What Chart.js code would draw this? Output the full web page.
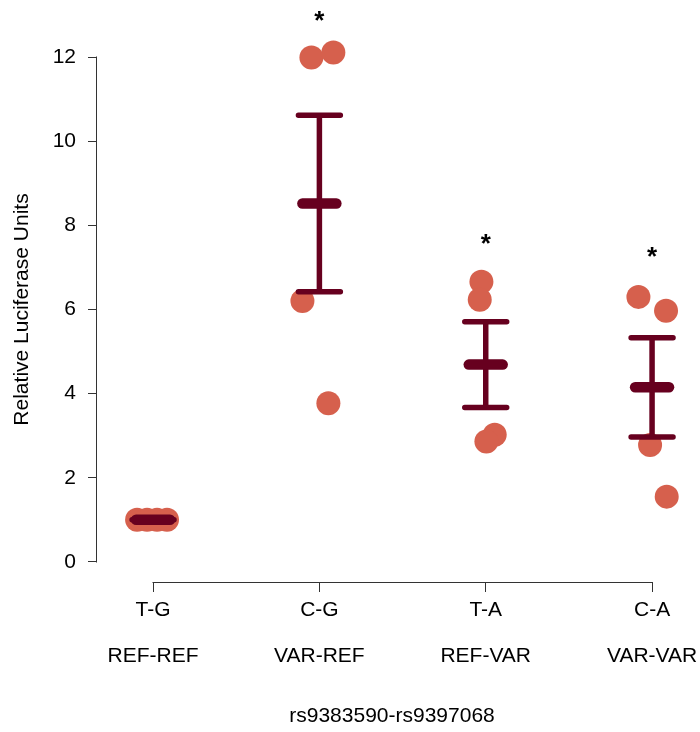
<!DOCTYPE html>
<html>
<head>
<meta charset="utf-8">
<script src="https://cdn.jsdelivr.net/npm/chart.js@4/dist/chart.umd.min.js"></script>
<style>
  html, body { margin: 0; padding: 0; background: #ffffff; }
  #c { display: block; }
</style>
</head>
<body>
<canvas id="c" width="700" height="732"></canvas>
<script>
// Haplotype groups and their genotype labels
const haplotypes = ['T-G', 'C-G', 'T-A', 'C-A'];
const genotypes = ['REF-REF', 'VAR-REF', 'REF-VAR', 'VAR-VAR'];
const yTicks = [0, 2, 4, 6, 8, 10, 12];

// Replicate luciferase readings per haplotype
const repTG = [1.00, 1.00, 1.00, 1.00];
const repCG = [11.99, 12.11, 6.20, 3.77];
const repTA = [6.66, 6.23, 3.02, 2.86];
const repCA = [6.30, 5.97, 2.78, 1.55];

// Horizontal jitter of the replicates (in category units)
const jitTG = [-0.096, -0.036, 0.024, 0.084];
const jitCG = [-0.048, 0.084, -0.102, 0.054];
const jitTA = [-0.026, -0.036, 0.054, 0.004];
const jitCA = [-0.082, 0.084, -0.012, 0.088];

// Group mean and standard error
const means = [1.00, 8.52, 4.69, 4.15];
const sems = [0.00, 2.10, 1.02, 1.18];

// Significance markers (value at which the star sits; null = none)
const starAt = [null, 12.95, 7.65, 7.35];

const xTitle = 'rs9383590-rs9397068';
const yTitle = 'Relative Luciferase Units';

const DOT = '#D6604D';
const DARK = '#67001F';
const FONT = '"Liberation Sans", Arial, Helvetica, sans-serif';
const FSIZE = 21;

const reps = [repTG, repCG, repTA, repCA];
const jits = [jitTG, jitCG, jitTA, jitCA];

const pointData = [];
reps.forEach((vals, i) => {
  vals.forEach((v, k) => pointData.push({ x: i + 1 + jits[i][k], y: v }));
});

const CAP_HALF = 0.126;
const MEAN_HALF = 0.102;

const datasets = [{
  label: 'replicates',
  data: pointData,
  pointRadius: 12,
  pointHoverRadius: 12,
  pointBackgroundColor: DOT,
  pointBorderWidth: 0,
  showLine: false,
  order: 3,
  clip: false
}];

means.forEach((m, i) => {
  const c = i + 1, lo = m - sems[i], hi = m + sems[i];
  datasets.push({
    label: 'se-' + haplotypes[i],
    data: [{ x: c, y: lo }, { x: c, y: hi }],
    showLine: true, borderColor: DARK, borderWidth: 5.5,
    borderCapStyle: 'butt', pointRadius: 0, order: 2, clip: false
  });
  datasets.push({
    label: 'caps-' + haplotypes[i],
    data: [{ x: c - CAP_HALF, y: hi }, { x: c + CAP_HALF, y: hi }, { x: c, y: null },
           { x: c - CAP_HALF, y: lo }, { x: c + CAP_HALF, y: lo }],
    showLine: true, spanGaps: false, borderColor: DARK, borderWidth: 5.5,
    borderCapStyle: 'round', pointRadius: 0, order: 2, clip: false
  });
  datasets.push({
    label: 'mean-' + haplotypes[i],
    data: [{ x: c - MEAN_HALF, y: m }, { x: c + MEAN_HALF, y: m }],
    showLine: true, borderColor: DARK, borderWidth: 10.5,
    borderCapStyle: 'round', pointRadius: 0, order: 1, clip: false
  });
});

// Axis lines spanning only the tick range, axis titles and significance stars
const decorations = {
  id: 'decorations',
  afterDraw(chart) {
    const { ctx, chartArea, scales } = chart;
    const xs = scales.x, ys = scales.y;
    ctx.save();
    ctx.strokeStyle = '#333';
    ctx.lineWidth = 1;
    ctx.beginPath();
    const ax = Math.round(chartArea.left) - 0.5;
    ctx.moveTo(ax, Math.round(ys.getPixelForValue(yTicks[0])) + 0.5);
    ctx.lineTo(ax, Math.round(ys.getPixelForValue(yTicks[yTicks.length - 1])) - 0.5);
    const by = Math.round(chartArea.bottom) + 0.5;
    ctx.moveTo(Math.round(xs.getPixelForValue(1)) - 0.5, by);
    ctx.lineTo(Math.round(xs.getPixelForValue(haplotypes.length)) + 0.5, by);
    ctx.stroke();

    ctx.fillStyle = '#000';
    ctx.font = FSIZE + 'px ' + FONT;
    ctx.textAlign = 'center';
    ctx.textBaseline = 'middle';
    ctx.fillText(xTitle, (chartArea.left + chartArea.right) / 2, 716);

    ctx.save();
    ctx.translate(22, (chartArea.top + chartArea.bottom) / 2);
    ctx.rotate(-Math.PI / 2);
    ctx.fillText(yTitle, 0, 0);
    ctx.restore();

    ctx.font = 'bold 26px ' + FONT;
    ctx.textBaseline = 'alphabetic';
    starAt.forEach((v, i) => {
      if (v === null) return;
      ctx.fillText('*', xs.getPixelForValue(i + 1), ys.getPixelForValue(v) + 12);
    });
    ctx.restore();
  }
};

new Chart(document.getElementById('c'), {
  type: 'scatter',
  data: { datasets },
  options: {
    responsive: false,
    animation: false,
    devicePixelRatio: 1,
    events: [],
    layout: { padding: { top: 37, right: 13, bottom: 0, left: 0 } },
    plugins: { legend: { display: false }, tooltip: { enabled: false } },
    scales: {
      x: {
        type: 'linear',
        min: 0.663,
        max: 4.21,
        afterBuildTicks: (s) => { s.ticks = haplotypes.map((_, i) => ({ value: i + 1 })); },
        afterFit: (s) => { s.height = 150; },
        ticks: {
          autoSkip: false, maxRotation: 0, minRotation: 0,
          padding: -4, color: '#000',
          font: { family: FONT, size: FSIZE, lineHeight: 2.15 },
          callback: (v, idx) => [haplotypes[idx], genotypes[idx]]
        },
        grid: { drawOnChartArea: false, drawTicks: true, tickLength: 10, color: '#333', lineWidth: 1 },
        border: { display: false }
      },
      y: {
        type: 'linear',
        min: -0.48,
        max: 12.48,
        afterBuildTicks: (s) => { s.ticks = yTicks.map(v => ({ value: v })); },
        afterFit: (s) => { s.width = 97; },
        ticks: {
          padding: 12, color: '#000',
          font: { family: FONT, size: FSIZE },
          callback: (v) => String(v)
        },
        grid: { drawOnChartArea: false, drawTicks: true, tickLength: 9, color: '#333', lineWidth: 1 },
        border: { display: false }
      }
    }
  },
  plugins: [decorations]
});
</script>
</body>
</html>
